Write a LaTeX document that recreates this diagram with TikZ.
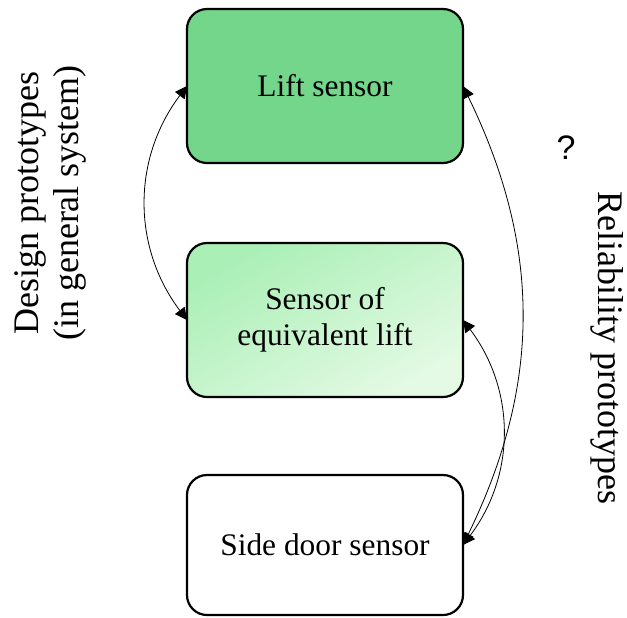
\documentclass[tikz,border=0pt]{standalone}
\usepackage{fontspec}
\setmainfont{Liberation Serif}
\newfontfamily\qfont{Liberation Sans}
\usetikzlibrary{arrows.meta, positioning}
\definecolor{liftgreen}{HTML}{73D68A}
\definecolor{equivtop}{HTML}{AAEFB6}
\definecolor{equivbot}{HTML}{E4FAE4}

\begin{document}
\begin{tikzpicture}[x=0.5pt, y=-0.5pt,
    box/.style={draw, line width=1.1pt, rounded corners=10pt, minimum width=138pt, minimum height=77pt, align=center, outer sep=0pt, font=\fontsize{15.7}{18}\selectfont},
    rel/.style={{Triangle[length=6pt,width=6pt]}-{Triangle[length=6pt,width=6pt]}, line width=0.4pt},
    side/.style={align=center, font=\fontsize{18}{20}\selectfont}
]
    \useasboundingbox (0,0) rectangle (627,617);

    % Sensors
    \node[box, fill=liftgreen] (lift) at (325,86) {Lift sensor};
    \node[box, below=40pt of lift, top color=equivtop, bottom color=equivbot, shading angle=30] (equiv) {Sensor of\\equivalent lift};
    \node[box, below=39pt of equiv, minimum height=70pt] (door) {Side door sensor};

    % Side labels
    \node[side, rotate=90] (design) at (50,203) {Design prototypes\\(in general system)};
    \node[side, rotate=-90] (reliab) at (607,348) {Reliability prototypes};
    \node[font=\qfont\fontsize{17}{20}\selectfont] (quest) at (566,148) {?};

    % Links
    \draw[rel] (lift.west) to[bend right=37] (equiv.west);
    \draw[rel] (lift.east) to[bend left=26] (door.east);
    \draw[rel] (equiv.east) to[bend left=37] (door.east);
\end{tikzpicture}
\end{document}
